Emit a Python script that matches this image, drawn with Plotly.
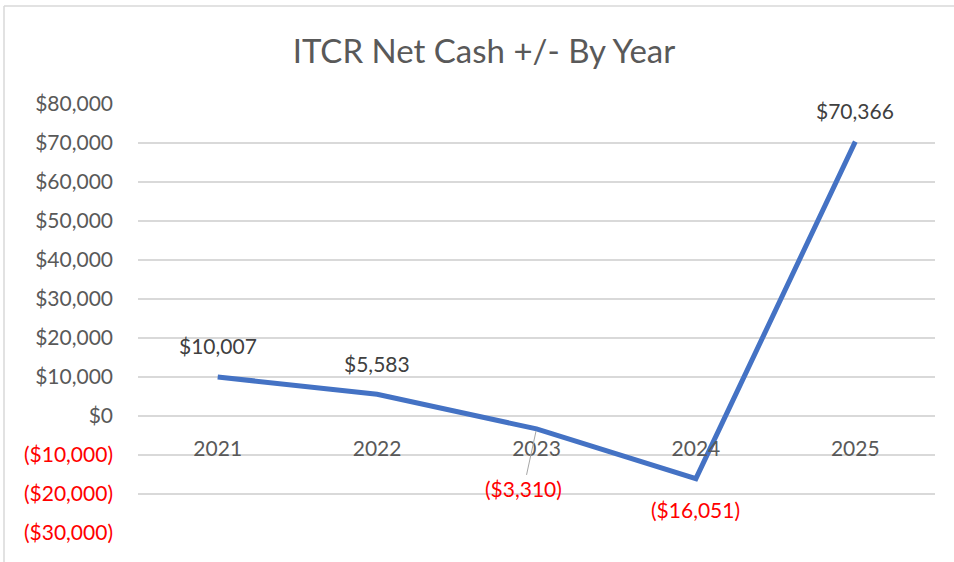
import plotly.graph_objects as go

years = ["2021", "2022", "2023", "2024", "2025"]
net_cash = [10007, 5583, -3310, -16051, 70366]
label_text = ["$10,007", "$5,583", "($3,310)", "($16,051)", "$70,366"]
y_tick_vals = [80000, 70000, 60000, 50000, 40000, 30000, 20000, 10000, 0, -10000, -20000, -30000]
y_tick_text = ["$80,000", "$70,000", "$60,000", "$50,000", "$40,000", "$30,000", "$20,000",
               "$10,000", "$0", "($10,000)", "($20,000)", "($30,000)"]
title_text = "ITCR Net Cash +/- By Year"

FONT = "Lato"
GRAY = "#595959"
RED = "#FF0000"
W, H = 954, 562
L, R, T, B = 138, 19, 104, 29
ymin, ymax = -30000, 80000

fig = go.Figure()
fig.add_trace(go.Scatter(
    x=years, y=net_cash, mode="lines",
    line=dict(color="#4472C4", width=5),
    hoverinfo="skip", showlegend=False,
))

ticktext = [f'<span style="color:{RED}">{t}</span>' if v < 0 else t
            for v, t in zip(y_tick_vals, y_tick_text)]

annotations = []
for i, (v, t) in enumerate(zip(net_cash, label_text)):
    if v >= 0:
        annotations.append(dict(x=i, y=v, xref="x", yref="y", text=t, showarrow=False,
                                yshift=31, font=dict(family=FONT, size=21, color="#404040")))
    elif i == 2:
        annotations.append(dict(x=i, y=v, xref="x", yref="y", text=t, showarrow=True,
                                arrowhead=0, arrowwidth=1, arrowcolor="#A6A6A6",
                                ax=-13, ay=60, standoff=2,
                                font=dict(family=FONT, size=21, color=RED)))
    else:
        annotations.append(dict(x=i, y=v, xref="x", yref="y", text=t, showarrow=False,
                                yshift=-31, font=dict(family=FONT, size=21, color=RED)))

pw = W - L - R
ph = H - T - B
bx0 = (4 - L) / pw
bx1 = (W + 5 - L) / pw
by_top = (H - B - 6) / ph
by_bot = (H - B - (H + 5)) / ph
shapes = [
    dict(type="line", xref="paper", yref="paper", x0=bx0, x1=bx0, y0=by_bot, y1=by_top,
         line=dict(color="#D9D9D9", width=1.5)),
    dict(type="line", xref="paper", yref="paper", x0=bx0, x1=bx1, y0=by_top, y1=by_top,
         line=dict(color="#D9D9D9", width=1.5)),
]

fig.update_layout(
    width=W, height=H,
    margin=dict(l=L, r=R, t=T, b=B, autoexpand=False),
    paper_bgcolor="white", plot_bgcolor="white",
    title=dict(text=title_text, x=484 / W, xanchor="center", y=1 - 51 / H, yanchor="middle",
               font=dict(family=FONT, size=33, color=GRAY)),
    xaxis=dict(type="category", range=[-0.5, 4.5], anchor="free",
               position=(0 - ymin) / (ymax - ymin),
               showgrid=False, showline=False, zeroline=False, ticks="",
               ticklabelstandoff=18,
               tickfont=dict(family=FONT, size=21, color=GRAY), fixedrange=True),
    yaxis=dict(range=[ymin, ymax], tickvals=y_tick_vals, ticktext=ticktext,
               showgrid=True, gridcolor="#D9D9D9", gridwidth=1.5,
               zeroline=True, zerolinecolor="#D9D9D9", zerolinewidth=1.5,
               showline=False, ticks="", ticklabelstandoff=24,
               tickfont=dict(family=FONT, size=21, color=GRAY), fixedrange=True),
    annotations=annotations,
    shapes=shapes,
)

post = "document.body.style.margin = '0';"
fig.write_html("out.html", post_script=post, config={"displayModeBar": False})
